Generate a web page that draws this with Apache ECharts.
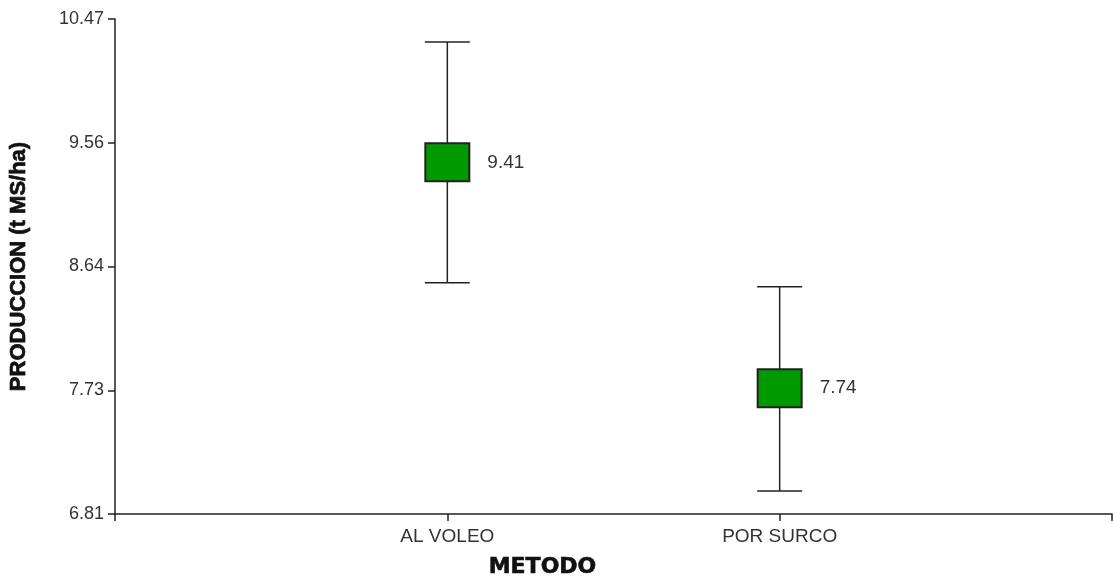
<!DOCTYPE html>
<html>
<head>
<meta charset="utf-8">
<script src="https://cdn.jsdelivr.net/npm/echarts@6/dist/echarts.min.js"></script>
<style>
  html, body { margin: 0; padding: 0; background: #ffffff; }
  #chart { width: 1114px; height: 579px; }
</style>
</head>
<body>
<div id="chart"></div>
<script>
// Production by sowing method: mean with interval bars
const METHODS = ['AL VOLEO', 'POR SURCO'];
const MEANS = [9.41, 7.74];
const UPPER = [10.30, 8.49];
const LOWER = [8.52, 6.98];
const Y_TICKS = ['6.81', '7.73', '8.64', '9.56', '10.47'];
const Y_MIN = 6.81;
const Y_MAX = 10.47;
const Y_STEP = 0.915;

const INK = '#222222';
const TEXT = '#333333';
const SANS = '"Liberation Sans", Arial, sans-serif';

const rows = METHODS.map((m, i) => [i + 1, MEANS[i], LOWER[i], UPPER[i]]);

const chart = echarts.init(document.getElementById('chart'), null, { renderer: 'canvas' });

chart.setOption({
  animation: false,
  backgroundColor: '#ffffff',
  grid: { left: 115, right: 2, top: 19, bottom: 65, containLabel: false, outerBoundsMode: 'none' },
  xAxis: {
    type: 'value',
    min: 0,
    max: METHODS.length + 1,
    interval: 1,
    name: 'METODO',
    nameLocation: 'middle',
    nameGap: 42,
    nameTextStyle: {
      fontFamily: '"DejaVu Sans", sans-serif',
      fontWeight: 'bold',
      fontSize: 22,
      color: '#111111',
      textBorderColor: '#111111',
      textBorderWidth: 0.6,
      padding: [0, 142, 0, 0]
    },
    axisLine: { show: true, lineStyle: { color: INK, width: 1.5 } },
    axisTick: { show: true, length: 7, lineStyle: { color: INK, width: 1.5 } },
    axisLabel: {
      margin: 13,
      fontFamily: SANS,
      fontSize: 19,
      color: TEXT,
      showMinLabel: true,
      showMaxLabel: true,
      formatter: v => METHODS[Math.round(v) - 1] || ''
    },
    splitLine: { show: false }
  },
  yAxis: {
    type: 'value',
    min: Y_MIN,
    max: Y_MAX,
    interval: Y_STEP,
    name: 'PRODUCCION (t MS/ha)',
    nameLocation: 'middle',
    nameRotate: 90,
    nameGap: 85,
    nameTextStyle: {
      fontFamily: SANS,
      fontWeight: 'bold',
      fontSize: 22,
      color: '#111111',
      textBorderColor: '#111111',
      textBorderWidth: 0.7
    },
    axisLine: { show: true, lineStyle: { color: INK, width: 1.5 } },
    axisTick: { show: true, length: 7, lineStyle: { color: INK, width: 1.5 } },
    axisLabel: {
      margin: 11,
      fontFamily: SANS,
      fontSize: 18,
      color: TEXT,
      showMinLabel: true,
      showMaxLabel: true,
      formatter: v => Y_TICKS[Math.round((v - Y_MIN) / Y_STEP)] || ''
    },
    splitLine: { show: false }
  },
  series: [{
    type: 'custom',
    data: rows,
    encode: { x: 0, y: [1, 2, 3] },
    renderItem: (params, api) => {
      const x = api.value(0);
      const mean = api.value(1);
      const lo = api.value(2);
      const hi = api.value(3);
      const pHi = api.coord([x, hi]);
      const pLo = api.coord([x, lo]);
      const pM = api.coord([x, mean]);
      const cap = 22.5;
      const boxW = 44;
      const boxH = 38;
      const lineStyle = { stroke: INK, lineWidth: 1.5 };
      return {
        type: 'group',
        children: [
          { type: 'line', shape: { x1: pHi[0], y1: pHi[1], x2: pLo[0], y2: pLo[1] }, style: lineStyle },
          { type: 'line', shape: { x1: pHi[0] - cap, y1: pHi[1], x2: pHi[0] + cap, y2: pHi[1] }, style: lineStyle },
          { type: 'line', shape: { x1: pLo[0] - cap, y1: pLo[1], x2: pLo[0] + cap, y2: pLo[1] }, style: lineStyle },
          {
            type: 'rect',
            shape: { x: pM[0] - boxW / 2, y: pM[1] - boxH / 2, width: boxW, height: boxH },
            style: { fill: '#009900', stroke: INK, lineWidth: 2 }
          },
          {
            type: 'text',
            style: {
              text: mean.toFixed(2),
              x: pM[0] + 40,
              y: pM[1],
              align: 'left',
              verticalAlign: 'middle',
              fontFamily: SANS,
              fontSize: 19,
              fill: TEXT
            }
          }
        ]
      };
    }
  }]
});
</script>
</body>
</html>
